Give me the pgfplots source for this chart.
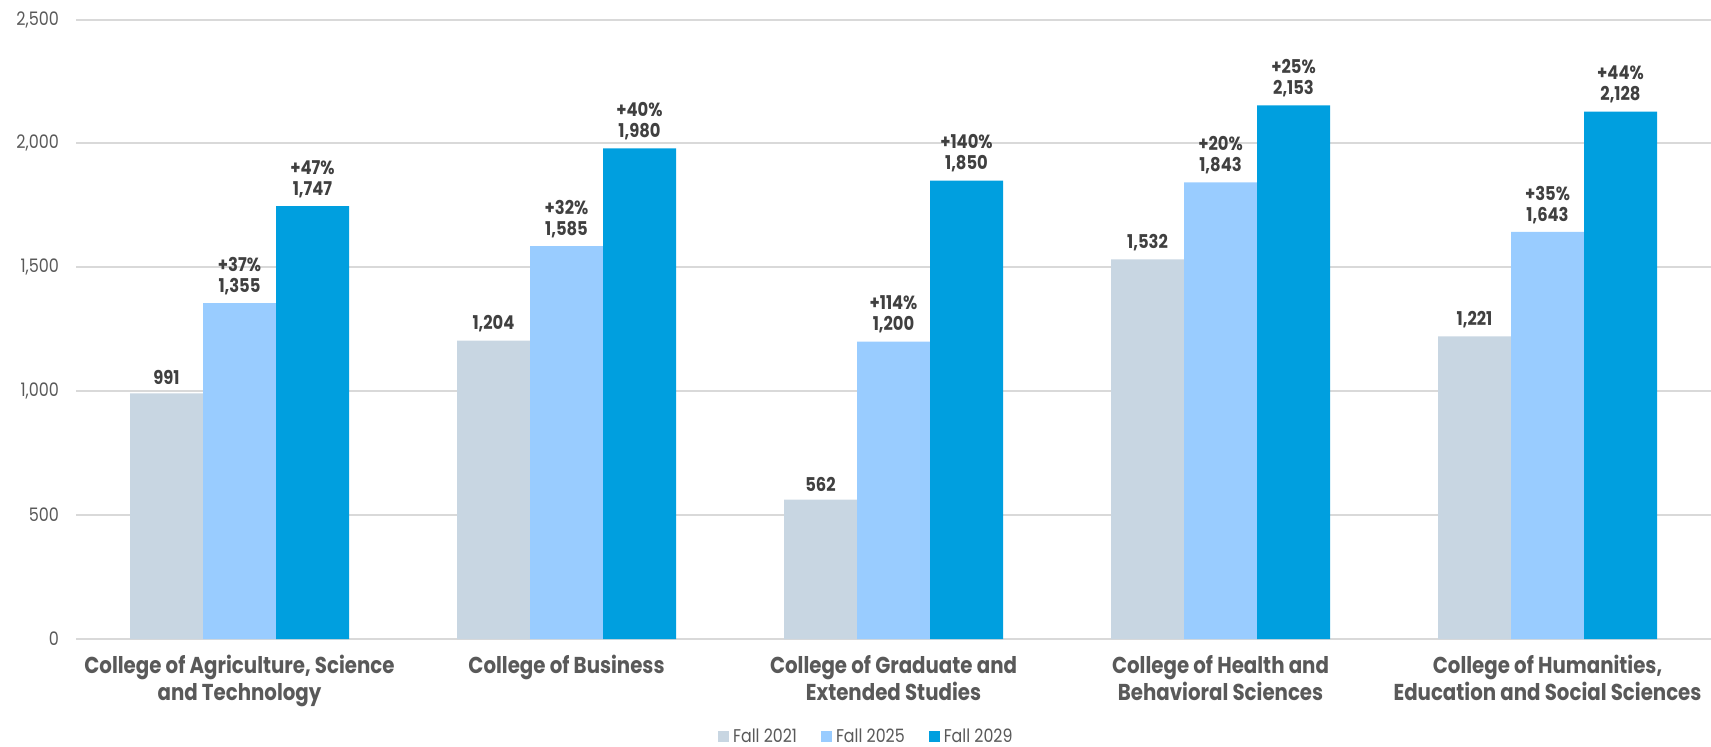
\documentclass[border=0pt]{standalone}
\usepackage{fontspec}
\setmainfont{Poppins}[FakeStretch=0.86]
\usepackage{pgfplots}
\pgfplotsset{compat=1.18}
\definecolor{cA}{HTML}{C8D6E2}
\definecolor{cB}{HTML}{99CCFF}
\definecolor{cC}{HTML}{009FDF}
\definecolor{gridc}{HTML}{D9D9D9}
\definecolor{txt}{HTML}{595959}
\definecolor{vtxt}{HTML}{404040}
\begin{document}
\begin{tikzpicture}
\useasboundingbox (-38pt,-53.5pt) rectangle (817.5pt,319.5pt);
\begin{axis}[
  at={(0,0)}, anchor=south west,
  scale only axis,
  width=817.5pt, height=309.75pt,
  ybar=0pt, bar width=36.5pt,
  xmin=-0.5, xmax=4.5, ymin=0, ymax=2500,
  enlargelimits=false,
  xtick={0,1,2,3,4},
  xticklabels={{College of Agriculture, Science\\and Technology},
    {College of Business},
    {College of Graduate and\\Extended Studies},
    {College of Health and\\Behavioral Sciences},
    {College of Humanities,\\Education and Social Sciences}},
  xticklabel style={align=center, font=\fontsize{11.5}{13.5}\selectfont\bfseries, text=txt, yshift=-4.5pt},
  ytick={0,500,...,2500},
  yticklabel style={font=\fontsize{9.3}{10}\selectfont, text=txt, xshift=-5pt},
  /pgf/number format/assume math mode=true,
  /pgf/number format/1000 sep={,},
  xmajorgrids=false, ymajorgrids=true,
  major grid style={draw=gridc, line width=1pt},
  axis x line*=bottom, axis y line*=left,
  x axis line style={draw=gridc, line width=1pt, -},
  y axis line style={draw=none},
  major tick length=0pt,
  every node near coord/.append style={font=\fontsize{9.5}{10.5}\selectfont\bfseries, text=vtxt, align=center, inner sep=4pt},
  legend style={at={(0.484,-0.158)}, anchor=center, draw=none, legend columns=3,
    font=\fontsize{9.2}{10}\selectfont, text=txt,
    /tikz/every even column/.append style={column sep=10pt}},
  legend image code/.code={\fill[#1] (0pt,-2.75pt) rectangle (5.5pt,2.75pt);},
]
\addplot[fill=cA, draw=none, nodes near coords] table[x=x, y=y] {
x y
0 991
1 1204
2 562
3 1532
4 1221
};
\addplot[fill=cB, draw=none, nodes near coords={+\pct\%\\\pgfmathprintnumber{\pgfplotspointmeta}},
  visualization depends on={value \thisrow{p} \as \pct}] table[x=x, y=y] {
x y p
0 1355 37
1 1585 32
2 1200 114
3 1843 20
4 1643 35
};
\addplot[fill=cC, draw=none, nodes near coords={+\pct\%\\\pgfmathprintnumber{\pgfplotspointmeta}},
  visualization depends on={value \thisrow{p} \as \pct}] table[x=x, y=y] {
x y p
0 1747 47
1 1980 40
2 1850 140
3 2153 25
4 2128 44
};
\legend{Fall 2021, Fall 2025, Fall 2029}
\end{axis}
\end{tikzpicture}
\end{document}
